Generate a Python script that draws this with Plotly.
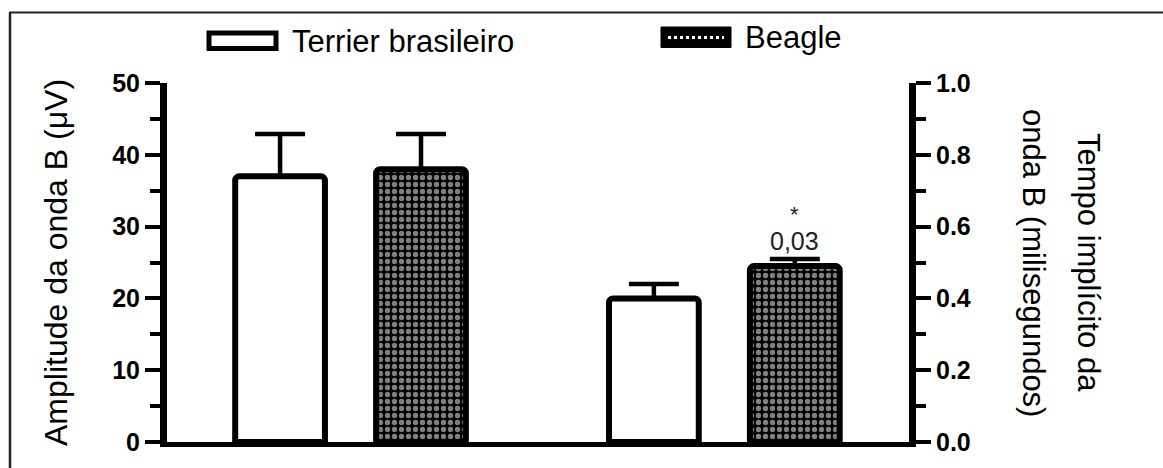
import plotly.graph_objects as go

# Values per breed: B-wave amplitude (µV, left axis) and implicit time (ms, right axis)
breeds = ["Terrier brasileiro", "Beagle"]
measures = ["Amplitude da onda B", "Tempo implícito da onda B"]
amplitude_mean = [37.0, 38.0]
amplitude_sd = [5.9, 4.9]
tempo_mean = [0.40, 0.49]
tempo_sd = [0.04, 0.02]
p_value_label = "0,03"

amp_ticks = [0, 10, 20, 30, 40, 50]
tempo_ticks = [0.0, 0.2, 0.4, 0.6, 0.8, 1.0]

W, H = 1163, 468
ML, MR, MT, MB = 167, 254, 83, 26
PW, PH = W - ML - MR, H - MT - MB
FONT = "Liberation Sans, Arial, Helvetica, sans-serif"


def px(x):
    return (x - ML) / PW


def py(y):
    return (H - MB - y) / PH


dot_pattern = dict(shape=".", fgcolor="white", bgcolor="black", size=7, solidity=0.45)
fills = [dict(color="white"), dict(color="black", pattern=dot_pattern)]

fig = go.Figure()
for i, breed in enumerate(breeds):
    for axis, mean, sd in (("y", amplitude_mean, amplitude_sd), ("y2", tempo_mean, tempo_sd)):
        fig.add_trace(go.Bar(
            x=[measures[0] if axis == "y" else measures[1]],
            y=[mean[i]],
            yaxis=axis,
            name=breed,
            offsetgroup=breed,
            showlegend=False,
            marker=dict(line=dict(color="black", width=6), **fills[i]),
            error_y=dict(type="data", array=[sd[i]], arrayminus=[0], symmetric=False,
                         color="black", thickness=4.5, width=25),
        ))

tick_style = dict(
    ticks="outside", ticklen=15, tickwidth=4, tickcolor="black",
    showline=True, linewidth=7, linecolor="black",
    showgrid=False, zeroline=False, fixedrange=True,
    tickfont=dict(family=FONT, size=25, color="black", weight="bold"),
)

fig.update_layout(
    width=W, height=H,
    margin=dict(l=ML, r=MR, t=MT, b=MB, pad=0),
    paper_bgcolor="white", plot_bgcolor="white",
    barmode="group", bargap=0.246, bargroupgap=0.363, barcornerradius=4,
    font=dict(family=FONT, color="black"),
    xaxis=dict(range=[-0.491, 1.494], showline=True, linewidth=5, linecolor="black",
               showticklabels=False, ticks="", showgrid=False, zeroline=False,
               fixedrange=True),
    yaxis=dict(range=[0, 50], tickvals=amp_ticks,
               minor=dict(dtick=5, ticks="outside", ticklen=10, tickwidth=4,
                          tickcolor="black", showgrid=False),
               **tick_style),
    yaxis2=dict(range=[0, 1], tickvals=tempo_ticks, tickformat=".1f",
                overlaying="y", side="right",
                minor=dict(dtick=0.1, ticks="outside", ticklen=10, tickwidth=4,
                           tickcolor="black", showgrid=False),
                **tick_style),
)


def label(text, x, y, size, angle=0, anchor="center", **kw):
    fig.add_annotation(text=text, x=px(x), y=py(y), xref="paper", yref="paper",
                       xanchor=anchor, yanchor="middle", textangle=angle,
                       showarrow=False, font=dict(size=size, **kw.pop("font", {})), **kw)


# Axis titles
label("Amplitude da onda B (\u03bcV)", 56, 263, 32, angle=-90)
label("Tempo implícito da", 1089, 262, 31, angle=90)
label("onda B (milisegundos)", 1034, 263, 31, angle=90)

# Significance label above the Beagle implicit-time bar
fig.add_annotation(text="*", x=measures[1], xref="x", y=py(214), yref="paper",
                   xshift=70.5, yanchor="middle", showarrow=False,
                   font=dict(size=22, color="#222"))
fig.add_annotation(text=p_value_label, x=measures[1], xref="x", y=py(241), yref="paper",
                   xshift=70.5, yanchor="middle", showarrow=False,
                   font=dict(size=25, color="#222"))

# Legend drawn as swatches + labels
shapes = [
    dict(type="rect", xref="paper", yref="paper", x0=px(209), x1=px(276), y0=py(33), y1=py(48.5),
         line=dict(color="black", width=5), fillcolor="white"),
    dict(type="rect", xref="paper", yref="paper", x0=px(661), x1=px(731), y0=py(27), y1=py(47.5),
         line=dict(color="black", width=1), fillcolor="black"),
    dict(type="line", xref="paper", yref="paper", x0=px(668), x1=px(724), y0=py(37.5), y1=py(37.5),
         line=dict(color="white", width=3, dash="dot")),
    # outer frame
    dict(type="line", xref="paper", yref="paper", x0=px(9), x1=px(W), y0=py(12.5), y1=py(12.5),
         line=dict(color="#222", width=2)),
    dict(type="line", xref="paper", yref="paper", x0=px(10), x1=px(10), y0=py(12.5), y1=py(H),
         line=dict(color="#222", width=2.5)),
]
fig.update_layout(shapes=shapes)
label(breeds[0], 290, 41, 31, anchor="left")
label(breeds[1], 743, 38, 31, anchor="left")

fig.write_html("out.html")
